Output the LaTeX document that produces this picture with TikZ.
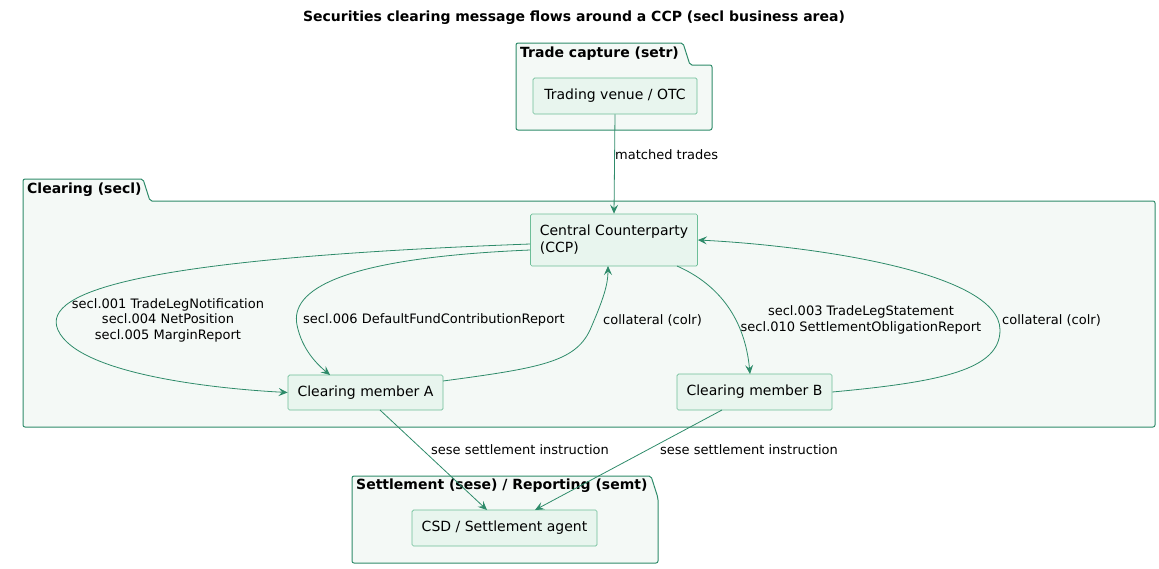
\documentclass[tikz,border=0pt]{standalone}
\usepackage{fontspec}
\setmainfont{DejaVu Sans}
\usetikzlibrary{arrows.meta}
\definecolor{edge}{HTML}{2E8B6A}
\definecolor{pkgfill}{HTML}{F4F9F6}
\definecolor{nodefill}{HTML}{E8F5EE}
\definecolor{nodeline}{HTML}{6DBE98}
\tikzset{
  box/.style={draw=nodeline, fill=nodefill, rounded corners=1.5pt, line width=0.7pt, inner sep=0pt, font=\fontsize{14}{17}\selectfont},
  pkg/.style={draw=edge, fill=pkgfill, line width=1pt, rounded corners=2pt},
  pkgtitle/.style={anchor=west, font=\fontsize{14}{16}\selectfont\bfseries, inner sep=0pt},
  flow/.style={draw=edge, line width=0.8pt, -{Stealth[length=9pt,width=8pt,inset=3.5pt]}},
  lbl/.style={font=\fontsize{13}{15.5}\selectfont, inner sep=0pt, align=center},
}
\begin{document}
\begin{tikzpicture}[x=1pt,y=-1pt]
\useasboundingbox (0,0) rectangle (1159,568);
% title
\node[font=\fontsize{14}{16}\selectfont\bfseries] (title) at (574,18) {Securities clearing message flows around a CCP (secl business area)};
% packages
\path[pkg] (600,43) -- (683,43) -- (690,65) -- (712,65) -- (712,130) -- (516,130) -- (516,43) -- cycle;
\node[pkgtitle] (t1) at (520,54) {Trade capture (setr)};
\path[pkg] (80,179) -- (143,179) -- (150,201) -- (1155,201) -- (1155,427) -- (23,427) -- (23,179) -- cycle;
\node[pkgtitle] (t2) at (27,190) {Clearing (secl)};
\path[pkg] (500,476) -- (651,476) -- (658,498) -- (658,563) -- (352,563) -- (352,476) -- cycle;
\node[pkgtitle] (t3) at (356,486) {Settlement (sese) / Reporting (semt)};
% nodes
\node[box, minimum width=164pt, minimum height=36pt] (tv) at (615,96) {Trading venue / OTC};
\node[box, minimum width=167pt, minimum height=52pt, align=left] (ccp) at (614,240) {Central Counterparty\\(CCP)};
\node[box, minimum width=155pt, minimum height=35pt] (cma) at (365.5,392.5) {Clearing member A};
\node[box, minimum width=155pt, minimum height=36pt] (cmb) at (754.5,392) {Clearing member B};
\node[box, minimum width=185pt, minimum height=36pt] (csd) at (504.5,528) {CSD / Settlement agent};
% edges
\draw[flow] (tv.south) -- (ccp.north);
\node[lbl, anchor=west] (l0) at (615,155) {matched trades};
\draw[flow] (ccp.west |- 0,244) .. controls (150,258) and (40,290) .. (58,330) .. controls (78,375) and (220,389) .. (cma.west);
\node[lbl] (l1) at (168,320) {secl.001 TradeLegNotification\\secl.004 NetPosition\\secl.005 MarginReport};
\draw[flow] (ccp.west |- 0,250) .. controls (340,258) and (290,290) .. (297,325) .. controls (302,350) and (318,365) .. (330,375);
\node[lbl, anchor=west] (l2) at (303,320) {secl.006 DefaultFundContributionReport};
\draw[flow] (443,381) .. controls (540,368) and (575,362) .. (590,330) .. controls (603,300) and (608,285) .. (608,266);
\node[lbl, anchor=west] (l3) at (603,320) {collateral (colr)};
\draw[flow] (677,266) .. controls (720,285) and (745,320) .. (750,374);
\node[lbl] (l4) at (861,320) {secl.003 TradeLegStatement\\secl.010 SettlementObligationReport};
\draw[flow] (cmb.east) .. controls (940,382) and (1000,370) .. (1000,330) .. controls (1000,270) and (800,245) .. (ccp.east |- 0,240);
\node[lbl, anchor=west] (l5) at (1002,320) {collateral (colr)};
\draw[flow] (380,410) -- (487,510);
\node[lbl, anchor=west] (l6) at (431,450) {sese settlement instruction};
\draw[flow] (722,410) -- (535,510);
\node[lbl, anchor=west] (l7) at (660,450) {sese settlement instruction};
\end{tikzpicture}
\end{document}
